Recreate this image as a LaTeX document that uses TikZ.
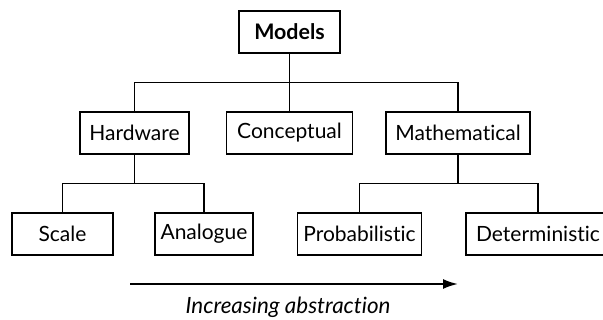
\documentclass[tikz,border=0pt]{standalone}
\usepackage{fontspec}
\setmainfont{Lato}[RawFeature=-liga]
\usepackage{tikz}
\usetikzlibrary{positioning, arrows.meta, calc}

\begin{document}
\begin{tikzpicture}
      [x=0.5pt, y=-0.5pt, inner sep=0pt, line width=0.6pt,
       box/.style={rectangle, draw=black, minimum height=21pt, font=\fontsize{10.5}{12}\selectfont},
       topbox/.style={box, line width=1.3pt, font=\fontsize{10.7}{12}\selectfont\bfseries}]
        \useasboundingbox (0,0) rectangle (603,320);
        \node (M) at (289.5,32) [topbox, minimum width=50.5pt] {Models};
        \node (H) at (134.5,133) [box, minimum width=54.5pt] {Hardware};
        \node (C) at (289.5,133) [box, minimum width=63pt] {Conceptual};
        \node (T) at (458,133) [box, minimum width=72pt] {Mathematical};
        \node (S) at (62.5,234) [box, minimum width=50.5pt] {Scale};
        \node (A) at (204,234) [box, minimum width=49pt] {Analogue};
        \node (P) at (359.5,234) [box, minimum width=62pt] {Probabilistic};
        \node (D) at (538,234) [box, minimum width=72pt] {Deterministic};
        \node (I) at (288,307) [font=\fontsize{11.2}{13}\selectfont\itshape] {Increasing abstraction};

        \coordinate (J1) at ($(M.south)!0.5!(C.north)$);
        \coordinate (J2) at ($(H.south)!0.5!(H.south |- S.north)$);
        \coordinate (J3) at ($(T.south)!0.5!(T.south |- P.north)$);
        \coordinate (L) at (130,284);
        \coordinate (R) at (458,284);

        \draw (M) -- (C);
        \draw (H.north) |- (J1) -| (T.north);
        \draw (H) -- (J2);
        \draw (S.north) |- (J2) -| (A.north);
        \draw (T) -- (J3);
        \draw (P.north) |- (J3) -| (D.north);
        \draw[line width=1pt, -{Latex[length=7.5pt, width=5pt]}] (L) -- (R);
      \end{tikzpicture}
\end{document}
